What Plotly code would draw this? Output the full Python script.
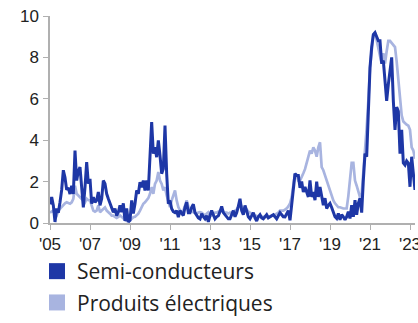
import plotly.graph_objects as go
import numpy as np

start_year = 2005
semi = [
    # 2005
    0.9, 1.25, 0.85, 0.05, 0.7, 0.5, 1.0, 1.6, 2.55, 2.2, 1.6, 1.7,
    # 2006
    1.4, 1.8, 1.4, 3.5, 2.05, 2.5, 2.7, 1.9, 0.76, 1.73, 2.94, 1.9,
    # 2007
    2.13, 0.93, 1.25, 1.0, 1.1, 1.5, 0.85, 1.17, 2.05, 1.9, 1.41, 1.17,
    # 2008
    0.93, 0.76, 0.52, 0.69, 0.36, 0.52, 0.85, 0.52, 0.95, 0.1, 0.7, 0.05,
    # 2009
    0.13, 1.09, 0.46, 0.93, 1.57, 1.41, 1.97, 1.73, 2.05, 1.57, 2.05, 1.57,
    # 2010
    3.0, 4.87, 3.35, 3.66, 3.18, 3.99, 3.26, 2.38, 2.62, 4.71, 2.38, 0.93,
    # 2011
    1.09, 0.69, 0.55, 0.5, 0.6, 0.28, 0.6, 0.45, 0.36, 0.76, 1.0, 0.5,
    # 2012
    0.5, 0.76, 0.9, 0.5, 0.36, 0.25, 0.2, 0.45, 0.3, 0.2, 0.35, 0.05,
    # 2013
    0.36, 0.6, 0.4, 0.2, 0.3, 0.35, 0.55, 0.8, 0.5, 0.4, 0.3, 0.2,
    # 2014
    0.2, 0.4, 0.6, 0.3, 0.5, 0.8, 1.17, 0.6, 0.4, 0.85, 0.6, 0.3,
    # 2015
    0.2, 0.35, 0.5, 0.25, 0.1, 0.3, 0.4, 0.25, 0.2, 0.3, 0.4, 0.25,
    # 2016
    0.3, 0.35, 0.4, 0.3, 0.2, 0.35, 0.5, 0.4, 0.3, 0.29, 0.45, 0.6,
    # 2017
    0.13, 0.94, 1.74, 2.38, 2.3, 2.3, 1.7, 2.0, 1.5, 1.74, 1.5, 1.26,
    # 2018
    2.06, 1.26, 1.5, 1.1, 2.0, 1.26, 1.74, 1.2, 0.86, 1.2, 0.7, 0.85,
    # 2019
    0.95, 0.75, 0.54, 0.3, 0.22, 0.46, 0.15, 0.4, 0.3, 0.15, 0.3, 0.55,
    # 2020
    0.22, 0.86, 0.3, 1.1, 0.4, 0.95, 1.2, 0.5, 2.06, 3.35, 3.2, 5.9,
    # 2021
    7.5, 8.5, 9.1, 9.2, 9.0, 8.8, 8.8, 7.7, 7.85, 7.05, 5.9, 6.7,
    # 2022
    7.5, 8.0, 5.9, 4.5, 5.6, 5.4, 3.35, 4.5, 2.9, 2.8, 3.0, 2.9,
    # 2023
    1.75, 3.2, 2.4, 1.6,
]
elec = [
    # 2005
    0.5, 0.55, 0.6, 0.4, 0.36, 0.6, 0.7, 0.8, 0.85, 0.95, 1.0, 0.95,
    # 2006
    0.93, 1.0, 1.17, 1.8, 1.41, 1.33, 1.25, 1.17, 1.05, 1.0, 1.17, 1.1,
    # 2007
    1.1, 0.8, 0.6, 0.55, 0.6, 0.85, 0.52, 0.6, 0.69, 0.75, 0.6, 0.5,
    # 2008
    0.45, 0.36, 0.36, 0.3, 0.25, 0.3, 0.36, 0.3, 0.2, 0.15, 0.1, 0.1,
    # 2009
    0.13, 0.2, 0.28, 0.3, 0.36, 0.45, 0.6, 0.75, 0.93, 1.0, 1.09, 1.2,
    # 2010
    1.41, 1.73, 1.41, 1.89, 2.05, 2.46, 2.05, 1.89, 1.57, 1.73, 1.33, 1.0,
    # 2011
    0.77, 1.09, 1.3, 1.57, 1.09, 0.77, 0.6, 0.52, 0.6, 0.8, 1.09, 0.8,
    # 2012
    0.6, 0.55, 0.52, 0.5, 0.46, 0.5, 0.52, 0.5, 0.45, 0.36, 0.45, 0.52,
    # 2013
    0.4, 0.36, 0.45, 0.5, 0.5, 0.55, 0.6, 0.6, 0.55, 0.5, 0.5, 0.45,
    # 2014
    0.5, 0.5, 0.55, 0.6, 0.65, 0.8, 0.94, 0.8, 0.65, 0.6, 0.65, 0.55,
    # 2015
    0.5, 0.45, 0.4, 0.35, 0.35, 0.3, 0.35, 0.3, 0.3, 0.3, 0.3, 0.3,
    # 2016
    0.3, 0.35, 0.35, 0.4, 0.45, 0.5, 0.6, 0.6, 0.6, 0.65, 0.7, 0.8,
    # 2017
    0.94, 1.25, 1.8, 2.4, 2.3, 2.05, 2.05, 2.2, 2.4, 2.6, 2.9, 3.2,
    # 2018
    3.5, 3.35, 3.65, 3.5, 3.2, 3.65, 3.9, 2.7, 2.55, 2.3, 2.05, 1.8,
    # 2019
    1.57, 1.3, 1.09, 0.95, 0.85, 0.76, 0.76, 0.72, 0.7, 0.7, 0.7, 1.3,
    # 2020
    2.05, 2.9, 2.9, 2.05, 1.8, 1.57, 1.25, 1.4, 2.4, 3.5, 4.6, 5.9,
    # 2021
    7.5, 8.3, 9.1, 9.2, 8.8, 8.4, 8.0, 7.7, 8.2, 7.7, 8.3, 8.8,
    # 2022
    8.8, 8.7, 8.65, 8.5, 7.8, 7.0, 6.1, 5.2, 4.9, 4.8, 4.75, 4.7,
    # 2023
    4.5, 3.65, 3.5, 3.1,
]
tick_years = [2005, 2007, 2009, 2011, 2013, 2015, 2017, 2019, 2021, 2023]
tick_labels = ["'05", "'07", "'09", "'11", "'13", "'15", "'17", "'19", "'21", "'23"]
y_ticks = [0, 2, 4, 6, 8, 10]
names = ["Semi-conducteurs", "Produits électriques"]

t = [start_year + i / 12 for i in range(len(semi))]

DARK = "#1E37A6"
LIGHT = "#A8B4E0"

fig = go.Figure()
fig.add_trace(go.Scatter(x=t, y=elec, mode="lines", line=dict(color=LIGHT, width=2.7),
                         showlegend=False, hoverinfo="skip"))
fig.add_trace(go.Scatter(x=t, y=semi, mode="lines", line=dict(color=DARK, width=3),
                         showlegend=False, hoverinfo="skip"))
# legend entries as squares
for i, (nm, col) in enumerate(zip(names, [DARK, LIGHT])):
    fig.add_trace(go.Scatter(x=[None], y=[None], mode="markers", name=nm,
                             legendgroup=f"g{i}",
                             marker=dict(symbol="square", size=16, color=col)))

axis_font = dict(family="Liberation Sans, Arial, sans-serif", size=17, color="#222222")
fig.update_layout(
    width=418, height=323,
    margin=dict(l=50, r=3, t=16, b=100, autoexpand=False),
    paper_bgcolor="white", plot_bgcolor="white",
    showlegend=True,
    legend=dict(xref="container", yref="container", x=37 / 418, y=0,
                xanchor="left", yanchor="bottom",
                font=dict(family="Open Sans, sans-serif", size=21, color="#222222"),
                itemsizing="trace", tracegroupgap=1, bgcolor="rgba(0,0,0,0)"),
    xaxis=dict(range=[2005, 2023.25], tickvals=tick_years, ticktext=tick_labels,
               showgrid=False, zeroline=False, showline=True, linecolor="#b0b0b0",
               linewidth=1.5, ticks="outside", ticklen=5, tickcolor="#b0b0b0",
               tickfont=axis_font, tickangle=0, ticklabeloverflow="allow"),
    yaxis=dict(range=[0, 10], tickvals=y_ticks, showgrid=False, zeroline=False,
               showline=True, linecolor="#b0b0b0", linewidth=1.5, ticks="outside",
               ticklen=5, tickcolor="#b0b0b0", tickfont=axis_font,
               ticklabelstandoff=1),
)
fig.write_html("out.html", config={"displayModeBar": False},
               post_script="document.body.style.margin='0';")
